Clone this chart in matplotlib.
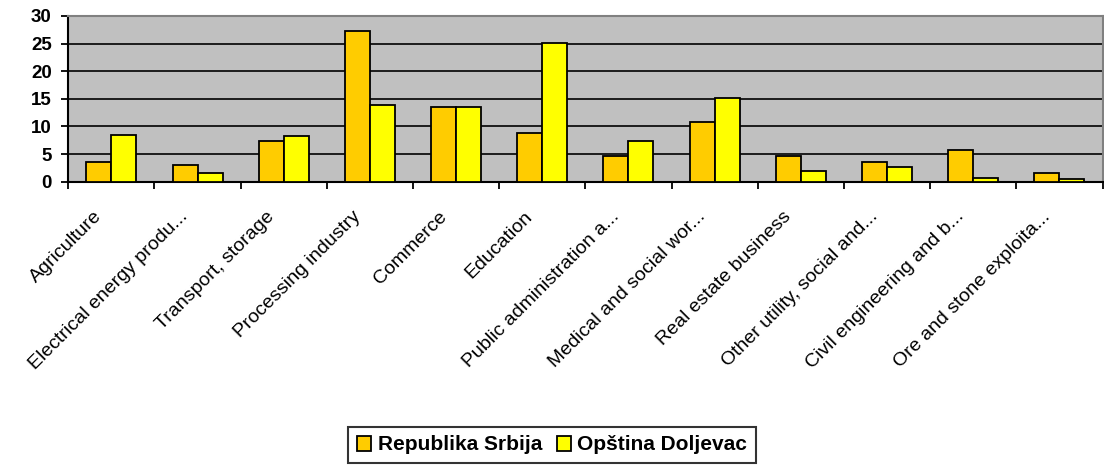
import matplotlib
matplotlib.use("Agg")
import matplotlib.pyplot as plt
import numpy as np
from matplotlib.transforms import ScaledTranslation

plt.rcParams['font.family'] = ['Liberation Sans', 'DejaVu Sans']

categories = ['Agriculture', 'Electrical energy produ...', 'Transport, storage',
              'Processing industry', 'Commerce', 'Education',
              'Public administration a...', 'Medical and social wor...',
              'Real estate business', 'Other utility, social and...',
              'Civil engineering and b...', 'Ore and stone exploita...']
srbija = [3.5, 3.1, 7.45, 27.2, 13.5, 8.8, 4.7, 10.85, 4.7, 3.5, 5.75, 1.6]
doljevac = [8.5, 1.5, 8.2, 13.8, 13.5, 25.2, 7.3, 15.2, 2.0, 2.7, 0.6, 0.5]
series_names = ['Republika Srbija', 'Opština Doljevac']
yticks = [0, 5, 10, 15, 20, 25, 30]

fig = plt.figure(figsize=(11.04, 4.70), dpi=100)
ax = fig.add_axes([68.3 / 1104, 1 - 181.7 / 470, (1102.5 - 68.3) / 1104, (181.7 - 16) / 470])
ax.set_facecolor('#C0C0C0')

x = np.arange(len(categories))
w = 0.29
ax.bar(x - w / 2, srbija, w, color='#FFCC00', edgecolor='black', linewidth=1.3,
       label=series_names[0], zorder=3)
ax.bar(x + w / 2, doljevac, w, color='#FFFF00', edgecolor='black', linewidth=1.3,
       label=series_names[1], zorder=3)

ax.set_xlim(-0.5, len(categories) - 0.5)
ax.set_ylim(0, 30)
ax.set_yticks(yticks)
ax.set_yticklabels([str(v) for v in yticks], fontsize=13.5, fontweight='bold')
ax.yaxis.grid(True, color='black', linewidth=1.2, zorder=1)
ax.set_axisbelow(True)
ax.tick_params(axis='y', length=5, width=1.3, pad=7)

# category labels on centres, tick marks on boundaries
ax.set_xticks(x)
ax.set_xticklabels(categories, rotation=45, ha='right', fontsize=14)
ax.tick_params(axis='x', which='major', length=0, pad=19)
ax.set_xticks(np.arange(len(categories) + 1) - 0.5, minor=True)
ax.tick_params(axis='x', which='minor', length=5, width=1.3)
shift = ScaledTranslation(-6 / 100, 0, fig.dpi_scale_trans)
for lab in ax.get_xticklabels():
    lab.set_transform(lab.get_transform() + shift)

for side in ['left', 'bottom']:
    ax.spines[side].set_color('black')
    ax.spines[side].set_linewidth(1.5)
for side in ['top', 'right']:
    ax.spines[side].set_color('#808080')
    ax.spines[side].set_linewidth(1.5)

leg = fig.legend(loc='center', bbox_to_anchor=(0.5, 1 - 445 / 470), ncol=2,
                 prop={'weight': 'bold', 'size': 15}, frameon=True, fancybox=False,
                 edgecolor='black', handlelength=0.7, handleheight=0.7,
                 handletextpad=0.3, columnspacing=0.7, borderpad=0.4,
                 borderaxespad=0)
leg.get_frame().set_linewidth(1.5)

fig.savefig('out.png', dpi=100, facecolor='white')
